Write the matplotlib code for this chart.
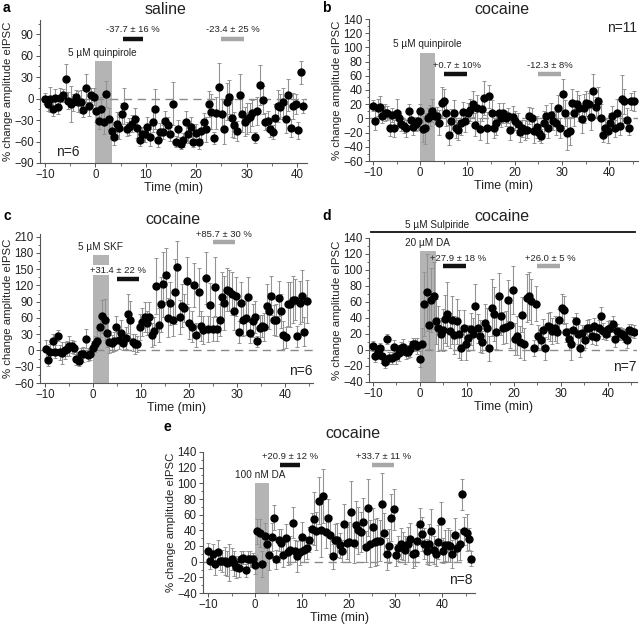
import numpy as np
import matplotlib
matplotlib.use("Agg")
import matplotlib.pyplot as plt
from matplotlib.ticker import MultipleLocator

plt.rcParams["font.family"] = ["Liberation Sans", "DejaVu Sans"]

# ---- data ----
a_vals = [0, -8, -1, -14, 1, -11, 1, 5, 28, -3,
          -8, -5, 2, -4, -4, -16, 15, -10, 5, 3,
          -17, -31, -14, -32, 6, -28, -45, -53, -35, -41,
          -21, -10, -42, -39, -35, -28, -41, -58, -49, -50,
          -40, -54, -32, -15, -58, -46, -47, -31, -37, -49,
          -7, -60, -42, -63, -58, -32, -50, -39, -60, -48,
          -60, -45, -32, -43, -8, -18, -55, -20, 16, -22,
          -42, -4, 2, -27, -37, -45, 5, -22, -32, -28,
          -26, -20, -54, -17, 19, -2, -32, -31, -43, -47,
          -27, -10, -11, -5, -28, 5, -41, -10, -8, -44,
          37, -10]
a_err = [8, 9, 17, 10, 12, 10, 14, 9, 20, 12,
         25, 12, 10, 14, 16, 10, 20, 14, 10, 12,
         15, 12, 16, 18, 18, 15, 12, 12, 16, 15,
         15, 25, 10, 12, 12, 15, 14, 8, 10, 10,
         14, 12, 15, 28, 10, 12, 10, 14, 12, 10,
         30, 8, 12, 8, 10, 15, 12, 14, 8, 12,
         10, 12, 12, 18, 18, 25, 8, 22, 34, 22,
         22, 26, 24, 26, 18, 14, 30, 24, 20, 22,
         20, 18, 8, 20, 28, 20, 12, 14, 10, 10,
         20, 22, 18, 20, 20, 22, 12, 18, 14, 12,
         16, 10]
a_span = (-10, 41.3)

b_vals = [18, -3, 15, 16, 4, 8, 8, -13, 5, -14,
          7, 0, -8, -11, -14, 10, -2, -12, -8, -3,
          10, -15, -14, 1, 4, 11, 4, 4, -6, 22,
          24, 8, -23, -3, 8, -13, -16, -7, 9, -3,
          7, 12, 20, -9, 15, -15, 13, 29, -13, 31,
          8, -13, -7, 8, 0, 7, 0, 4, -16, 2,
          -3, -8, -19, -14, -16, -16, 4, 0, -18, -12,
          -20, -25, -6, 3, -14, 5, -3, -7, 15, -14,
          34, 8, -21, -18, 21, 8, 20, 15, -1, 14,
          21, 20, 2, 38, 16, 24, 0, -23, -13, -18,
          -6, 3, -14, 8, -10, 27, 24, -2, -13, 24,
          25]
b_err = [8, 14, 12, 15, 10, 12, 10, 12, 10, 12,
         20, 10, 10, 10, 12, 10, 10, 12, 10, 14,
         10, 18, 22, 14, 15, 16, 12, 12, 18, 22,
         18, 18, 14, 16, 18, 14, 14, 16, 14, 16,
         14, 16, 18, 16, 18, 16, 16, 24, 22, 16,
         18, 14, 16, 14, 12, 14, 10, 10, 14, 16,
         14, 16, 14, 12, 14, 12, 12, 14, 16, 16,
         12, 10, 16, 16, 14, 16, 14, 16, 18, 14,
         22, 18, 24, 20, 20, 18, 18, 18, 20, 20,
         18, 16, 18, 24, 14, 20, 20, 10, 12, 16,
         14, 14, 12, 20, 14, 34, 18, 16, 10, 12,
         14]
b_span = (-10, 45.2)

c_vals = [3, -17, -2, 17, -2, 27, -3, -5, 0, 3,
          8, 8, 5, -15, -19, -7, -7, 22, -8, -7,
          5, 12, 18, 44, 63, 57, 32, 16, 13, 17,
          43, 19, 33, 14, 23, 68, 57, 15, 12, 12,
          43, 53, 62, 50, 62, 28, 36, 119, 47, 85,
          122, 139, 60, 87, 56, 108, 155, 62, 83, 78,
          129, 51, 44, 121, 28, 108, 45, 38, 133, 39,
          84, 40, 118, 40, 56, 99, 87, 112, 110, 105,
          72, 100, 34, 88, 56, 60, 98, 33, 55, 62,
          17, 42, 45, 44, 83, 73, 101, 56, 56, 96,
          73, 28, 24, 86, 85, 94, 94, 26, 88, 101,
          35, 91]
c_err = [16, 12, 14, 14, 12, 10, 14, 20, 16, 14,
         18, 12, 12, 12, 10, 12, 14, 18, 12, 10,
         12, 14, 18, 20, 30, 38, 26, 20, 16, 18,
         20, 16, 24, 14, 20, 36, 34, 16, 18, 14,
         24, 26, 28, 22, 28, 22, 26, 52, 32, 50,
         60, 50, 36, 40, 30, 60, 48, 32, 40, 26,
         44, 30, 28, 40, 22, 44, 28, 26, 48, 24,
         40, 22, 54, 22, 30, 46, 50, 40, 38, 40,
         34, 36, 20, 38, 30, 32, 38, 20, 30, 30,
         10, 24, 20, 26, 40, 34, 36, 28, 30, 32,
         32, 26, 20, 40, 42, 44, 38, 20, 40, 48,
         26, 40]
c_span = (-9.8, 44.5)

d_vals = [5, -7, -3, 3, -8, -15, 14, -10, -10, 4,
          -8, -4, 2, 4, -3, -2, 1, 7, 7, 5,
          -11, 8, 57, 72, 31, 62, 68, 36, 27, 20,
          25, 39, 45, 24, 37, 19, 36, 20, 2, 28,
          8, 15, 26, 20, 55, 27, 17, 10, 34, 27,
          2, 53, 45, 23, 68, 43, 27, 29, 62, 31,
          75, 14, 18, 10, 44, 8, 65, 67, 61, 3,
          58, 17, 13, 25, 2, 30, 29, 24, 27, 23,
          37, 52, 50, 22, 14, 8, 25, 36, 20, 3,
          21, 12, 28, 27, 17, 30, 16, 27, 42, 24,
          20, 26, 27, 33, 14, 24, 21, 20, 18, 12,
          25, 24, 23]
d_err = [6, 8, 8, 6, 8, 8, 6, 8, 8, 8,
         10, 10, 8, 10, 8, 8, 10, 8, 8, 10,
         10, 20, 40, 48, 30, 40, 42, 28, 28, 20,
         26, 30, 40, 22, 30, 24, 28, 30, 14, 22,
         20, 16, 20, 20, 28, 18, 20, 14, 24, 26,
         16, 36, 34, 22, 28, 24, 20, 20, 26, 28,
         30, 20, 24, 20, 22, 20, 30, 30, 28, 10,
         22, 14, 12, 14, 14, 16, 18, 16, 16, 14,
         14, 18, 18, 12, 14, 20, 16, 10, 12, 12,
         10, 10, 10, 12, 10, 10, 10, 10, 12, 10,
         8, 10, 10, 10, 10, 8, 8, 8, 8, 10,
         8, 8, 8]
d_span = (-10, 45.5)

e_vals = [14, 1, 10, -3, 12, 1, 1, 1, -2, -1,
          4, -2, -7, -8, 4, 5, -11, 3, 3, 3,
          -4, 39, 37, -3, 33, 22, 9, 31, 56, 3,
          28, 24, 9, 30, 12, 15, 50, 14, 7, 12,
          31, 15, 17, 28, 42, 55, 39, 78, 40, 84,
          38, 56, 34, 7, 28, 28, 21, 14, 48, 24,
          25, 63, 24, 47, 40, 38, 51, 19, 69, 23,
          44, 25, 26, 27, 73, 36, 10, 20, 56, 67,
          9, 17, 23, 20, 15, 22, 29, 10, 11, 27,
          48, 35, 23, 13, 22, 39, 15, 10, 25, 52,
          14, 21, 21, 20, 10, 34, 18, 22, 86, 39,
          37, 29, 4]
e_err = [10, 10, 12, 14, 16, 12, 14, 18, 16, 24,
         14, 16, 14, 12, 10, 8, 8, 10, 10, 8,
         12, 16, 18, 16, 16, 14, 20, 18, 16, 12,
         14, 18, 16, 18, 16, 18, 20, 14, 20, 16,
         20, 16, 14, 16, 20, 34, 24, 30, 34, 34,
         20, 24, 24, 16, 20, 22, 16, 14, 26, 20,
         26, 40, 26, 30, 30, 26, 30, 20, 36, 30,
         24, 30, 30, 26, 40, 26, 20, 22, 30, 26,
         14, 16, 20, 18, 18, 22, 20, 18, 16, 20,
         20, 22, 20, 16, 26, 28, 18, 16, 22, 24,
         16, 20, 22, 20, 18, 22, 18, 20, 20, 18,
         24, 14, 10]
e_span = (-10, 46.2)

W, H = 640, 625
GRAY = "#b4b4b4"


def px_rect(l, t, r, b):
    return [l / W, 1 - b / H, (r - l) / W, (b - t) / H]


def panel(fig, rect, vals, err, span, xlim, ylim, ystep, drug, drug_label, drug_top,
          bar1, bar2, bar_y, lab1, lab2, lab_y, n_text, n_xy, lab1_box=False):
    ax = fig.add_axes(rect)
    t = np.linspace(span[0], span[1], len(vals))
    # drug application window
    ax.fill_between(drug, ylim[0], drug_top, color=GRAY, lw=0, zorder=1)
    ax.axhline(0, color="#8a8a8a", lw=1.0, ls=(0, (6, 4)), zorder=1)
    ax.errorbar(t, vals, yerr=err, fmt="o", color="black", ms=5.0,
                ecolor="#939393", elinewidth=0.8, capsize=1.5, capthick=0.7, zorder=3)
    # analysis windows
    ax.plot(bar1, [bar_y[0], bar_y[0]], color="#111111", lw=3.2, solid_capstyle="butt", zorder=4)
    ax.plot(bar2, [bar_y[1], bar_y[1]], color="#a8a8a8", lw=3.2, solid_capstyle="butt", zorder=4)
    kw = dict(fontsize=6.8, color="#222222", ha="center", va="bottom", zorder=5)
    if lab1_box:
        kw1 = dict(kw, bbox=dict(facecolor="white", edgecolor="none", pad=0.5))
    else:
        kw1 = kw
    ax.text(lab1[1], lab_y[0], lab1[0], **kw1)
    ax.text(lab2[1], lab_y[1], lab2[0], **kw)
    ax.text(drug_label[1], drug_label[2], drug_label[0], fontsize=7.2, color="#222222",
            ha="center", va="bottom")
    ax.text(n_xy[0], n_xy[1], n_text, fontsize=10, color="#222222", ha=n_xy[2], va="center")

    ax.set_xlim(*xlim)
    ax.set_ylim(*ylim)
    ax.xaxis.set_major_locator(MultipleLocator(10))
    ax.xaxis.set_minor_locator(MultipleLocator(5))
    ax.yaxis.set_major_locator(MultipleLocator(ystep))
    ax.yaxis.set_minor_locator(MultipleLocator(ystep / 2))
    for s in ("top", "right"):
        ax.spines[s].set_visible(False)
    for s in ("left", "bottom"):
        ax.spines[s].set_color("#555555")
        ax.spines[s].set_linewidth(0.8)
    ax.tick_params(which="major", length=3, width=0.7, labelsize=8.3, colors="#555555",
                   labelcolor="#222222", pad=1.5)
    ax.tick_params(which="minor", length=1.8, width=0.6, colors="#555555")
    ax.set_xlabel("Time (min)", fontsize=9, color="#222222", labelpad=0.5)
    ax.set_ylabel("% change amplitude eIPSC", fontsize=8.2, color="#222222", labelpad=1)
    return ax


fig = plt.figure(figsize=(W / 100, H / 100), dpi=100)

# a
panel(fig, px_rect(40, 20, 307, 163), a_vals, a_err, a_span, (-11, 42), (-90, 110), 30,
      (0, 3.2), ("5 µM quinpirole", 1.4, 57), 52,
      (5.5, 9.5), (25, 29.5), (84, 84), ("-37.7 ± 16 %", 7.5), ("-23.4 ± 25 %", 27.2),
      (90, 90), "n=6", (-5.4, -74, "center"))
# b
panel(fig, px_rect(369, 19, 638, 161), b_vals, b_err, b_span, (-10.85, 46.1), (-60, 140), 20,
      (0, 3.1), ("5 µM quinpirole", 1.5, 98), 92,
      (5, 9.8), (25, 29.8), (63, 63), ("+0.7 ± 10%", 7.8), ("-12.3 ± 8%", 27.5),
      (68, 68), "n=11", (45.8, 128, "right"))
# c
panel(fig, px_rect(40, 234, 313, 383), c_vals, c_err, c_span, (-11, 45.8), (-60, 215), 30,
      (0, 3.3), ("5 µM SKF", 1.5, 182), 177,
      (5, 9.6), (25, 29.6), (132, 200), ("+31.4 ± 22 %", 5.3), ("+85.7 ± 30 %", 27.3),
      (140, 205), "n=6", (45.8, -38, "right"), lab1_box=True)
# d
ax_d = panel(fig, px_rect(369, 238, 637, 382), d_vals, d_err, d_span, (-10.85, 46.2), (-40, 140), 20,
             (0, 3.5), ("20 µM DA", 1.6, 128), 124,
             (5, 9.8), (25, 29.8), (105, 105), ("+27.9 ± 18 %", 8.2), ("+26.0 ± 5 %", 27.8),
             (109, 109), "n=7", (46.2, -21, "right"))
ax_d.plot([-10.4, 45.8], [147, 147], color="#111111", lw=1.3, clip_on=False)
ax_d.text(3.6, 149.5, "5 µM Sulpiride", fontsize=7.2, color="#222222", ha="center", va="bottom",
          clip_on=False)
# e
panel(fig, px_rect(203, 452, 475, 593), e_vals, e_err, e_span, (-11.1, 47), (-40, 140), 20,
      (0, 3.1), ("100 nM DA", 1.2, 104), 100,
      (5.3, 9.6), (25, 29.8), (124, 124), ("+20.9 ± 12 %", 7.5), ("+33.7 ± 11 %", 27.4),
      (128, 128), "n=8", (46.5, -24, "right"))

# titles and panel letters
for x, y, s in [(166, 10, "saline"), (502, 9, "cocaine"), (173, 219, "cocaine"),
                (502, 217, "cocaine"), (353, 434, "cocaine")]:
    fig.text(x / W, 1 - y / H, s, fontsize=11.5, color="#222222", ha="center", va="center")
for x, y, s in [(3, 8, "a"), (322, 8, "b"), (3, 216, "c"), (322, 216, "d"), (163, 427, "e")]:
    fig.text(x / W, 1 - y / H, s, fontsize=10, fontweight="bold", ha="left", va="center")

fig.savefig("out.png", dpi=100)
